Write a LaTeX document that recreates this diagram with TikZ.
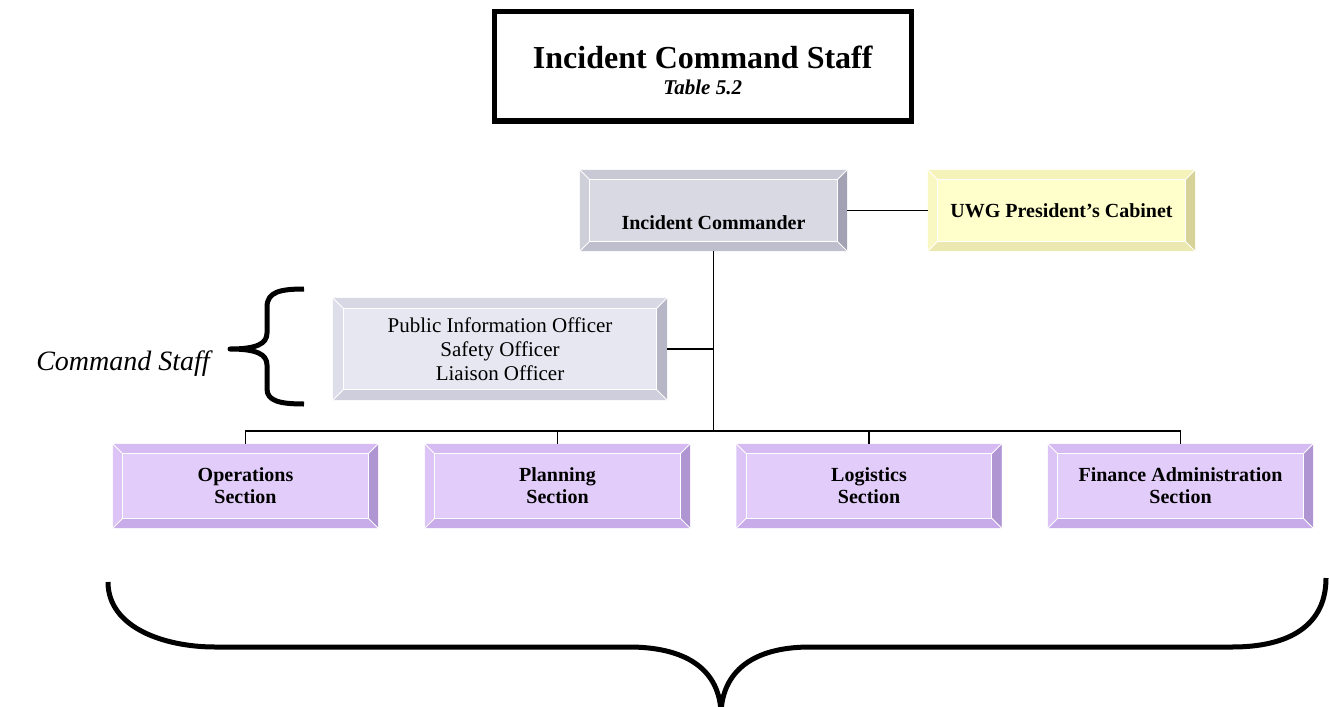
\documentclass[tikz,border=0pt]{standalone}
\usepackage{fontspec}
\setmainfont{Liberation Serif}
\usetikzlibrary{calc}
\definecolor{icface}{RGB}{217,217,227}
\definecolor{ictop}{RGB}{201,201,213}
\definecolor{icleft}{RGB}{207,207,218}
\definecolor{icright}{RGB}{162,162,180}
\definecolor{icbottom}{RGB}{190,190,205}
\definecolor{csface}{RGB}{231,231,241}
\definecolor{cstop}{RGB}{216,216,229}
\definecolor{csleft}{RGB}{222,222,234}
\definecolor{csright}{RGB}{182,182,199}
\definecolor{csbottom}{RGB}{206,206,220}
\definecolor{cbface}{RGB}{255,255,204}
\definecolor{cbtop}{RGB}{246,243,186}
\definecolor{cbleft}{RGB}{250,248,194}
\definecolor{cbright}{RGB}{214,210,152}
\definecolor{cbbottom}{RGB}{236,233,176}
\definecolor{scface}{RGB}{226,204,250}
\definecolor{sctop}{RGB}{214,187,243}
\definecolor{scleft}{RGB}{220,196,247}
\definecolor{scright}{RGB}{176,149,211}
\definecolor{scbottom}{RGB}{200,171,233}
\newcommand{\mybevel}[6]{%
  \fill[#3] (#1.north west) -- (#1.north east) -- ($(#1.north east)+(-#2,-#2)$) -- ($(#1.north west)+(#2,-#2)$) -- cycle;
  \fill[#6] (#1.north west) -- (#1.south west) -- ($(#1.south west)+(#2,#2)$) -- ($(#1.north west)+(#2,-#2)$) -- cycle;
  \fill[#4] (#1.north east) -- (#1.south east) -- ($(#1.south east)+(-#2,#2)$) -- ($(#1.north east)+(-#2,-#2)$) -- cycle;
  \fill[#5] (#1.south west) -- (#1.south east) -- ($(#1.south east)+(-#2,#2)$) -- ($(#1.south west)+(#2,#2)$) -- cycle;
  \draw[white, line width=1pt] ($(#1.north west)+(#2,-#2)$) rectangle ($(#1.south east)+(-#2,#2)$);
  \draw[white, line width=0.8pt] (#1.north west) -- ($(#1.north west)+(#2,-#2)$)
     (#1.north east) -- ($(#1.north east)+(-#2,-#2)$)
     (#1.south west) -- ($(#1.south west)+(#2,#2)$)
     (#1.south east) -- ($(#1.south east)+(-#2,#2)$);
}
\tikzset{
  boldtxt/.style={font=\fontsize{20}{22}\selectfont\bfseries},
  secbox/.style={fill=scface, minimum width=265pt, minimum height=84pt, inner sep=0pt, align=center, boldtxt},
  conn/.style={draw=black, line width=1.6pt},
  bracestyle/.style={draw=black, line width=5pt, line cap=butt, line join=round},
}
\begin{document}
\begin{tikzpicture}[x=1pt,y=1pt]
\useasboundingbox (0,0) rectangle (1329,-706);
% title
\node[draw=black, line width=5pt, minimum width=416.5pt, minimum height=109.5pt, inner sep=0pt, align=center, font=\fontsize{21}{26}\selectfont] (title) at (702.75,-66.25)
  {\rule{0pt}{31pt}{\fontsize{32}{32}\selectfont\bfseries Incident Command Staff}\\{\bfseries\itshape Table 5.2}};
% boxes
\node[fill=icface, minimum width=267pt, minimum height=81pt, inner sep=0pt, boldtxt] (ic) at (713.5,-210.5)
  {\raisebox{-19pt}[0pt][0pt]{Incident Commander}};
\node[fill=cbface, minimum width=267pt, minimum height=81pt, inner sep=0pt, boldtxt] (cab) at (1061.5,-210.5)
  {UWG President’s Cabinet};
\node[fill=csface, minimum width=334pt, minimum height=102pt, inner sep=0pt, align=center, font=\fontsize{21}{24}\selectfont] (cs) at (500,-349)
  {Public Information Officer\\Safety Officer\\Liaison Officer};
\node[secbox] (ops) at (245.5,-486) {Operations\\Section};
\node[secbox] (plan) at (557.5,-486) {Planning\\Section};
\node[secbox] (logi) at (869,-486) {Logistics\\Section};
\node[secbox] (fin) at (1180.5,-486) {Finance Administration\\Section};
\mybevel{ic}{10}{ictop}{icright}{icbottom}{icleft}
\mybevel{cab}{10}{cbtop}{cbright}{cbbottom}{cbleft}
\mybevel{cs}{11}{cstop}{csright}{csbottom}{csleft}
\mybevel{ops}{10}{sctop}{scright}{scbottom}{scleft}
\mybevel{plan}{10}{sctop}{scright}{scbottom}{scleft}
\mybevel{logi}{10}{sctop}{scright}{scbottom}{scleft}
\mybevel{fin}{10}{sctop}{scright}{scbottom}{scleft}
% connectors
\coordinate (bus) at (713.5,-431);
\draw[conn] (ic.east) -- (cab.west);
\draw[conn] (ic.south) -- (bus);
\draw[conn] (cs.east) -- (cs.east -| bus);
\draw[conn] (ops.north) -- (ops.north |- bus) -- (fin.north |- bus) -- (fin.north);
\draw[conn] (plan.north) -- (plan.north |- bus);
\draw[conn] (logi.north) -- (logi.north |- bus);
% command staff brace
\node[font=\fontsize{28}{28}\selectfont\itshape, anchor=base, inner sep=0pt] (cstext) at (123,-370) {Command Staff};
\coordinate (lbtop) at (304,-289);
\coordinate (lbtip) at (230,-349);
\coordinate (lbbot) at (304,-404);
\draw[bracestyle] (lbtop) .. controls (280,-289) and (267,-292) .. (267,-307) -- (267,-333)
   .. controls (267,-344) and (256,-349) .. (lbtip)
   .. controls (256,-349) and (267,-354) .. (267,-365) -- (267,-389)
   .. controls (267,-401) and (280,-404) .. (lbbot);
% bottom brace
\coordinate (bbl) at (108,-582);
\coordinate (bbtip) at (721,-712);
\coordinate (bbr) at (1326,-578);
\draw[bracestyle] (bbl) .. controls (108,-628) and (165,-647) .. (215,-647) -- (632,-647)
   .. controls (690,-648) and (719,-672) .. (bbtip)
   .. controls (723,-672) and (752,-647) .. (810,-647) -- (1232,-647)
   .. controls (1290,-647) and (1326,-625) .. (bbr);
\end{tikzpicture}
\end{document}
